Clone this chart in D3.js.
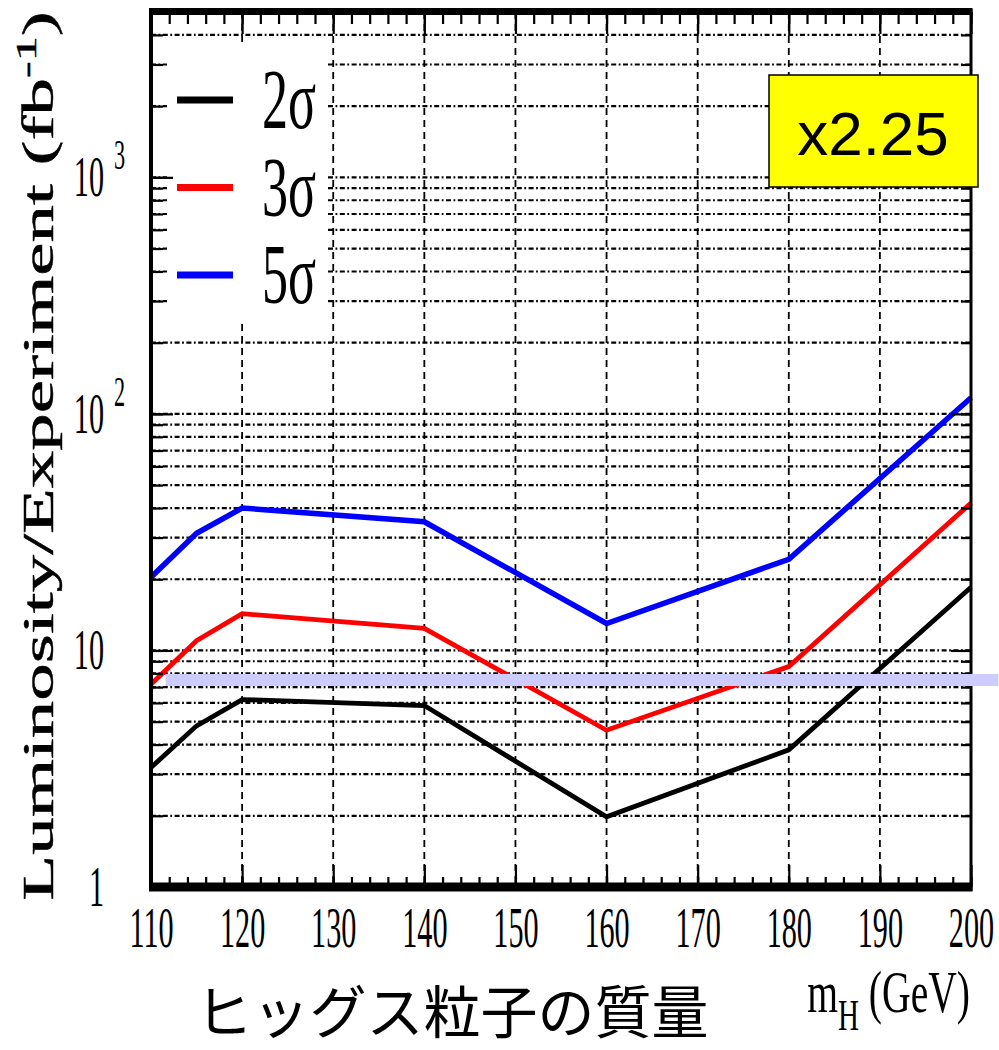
<!DOCTYPE html>
<html>
<head>
<meta charset="utf-8">
<script src="https://cdn.jsdelivr.net/npm/d3@7"></script>
<style>
  body { margin: 0; background: #fff; }
  svg { display: block; }
</style>
</head>
<body>
<svg id="chart" width="999" height="1050"></svg>
<script>
// Higgs mass points (GeV) and luminosity needed per experiment (fb^-1)
var massPoints = [110, 115, 120, 140, 160, 180, 200];
var lumi2sigma = [3.2, 4.8, 6.2, 5.85, 1.98, 3.8, 18.5];
var lumi3sigma = [7.2, 11.0, 14.3, 12.4, 4.6, 8.55, 42];
var lumi5sigma = [20.4, 31.3, 40, 35, 13.0, 24.3, 117];

var seriesNames = ["2σ", "3σ", "5σ"];
var seriesColors = ["#000000", "#ff0000", "#0000ff"];

var xTicks = [110, 120, 130, 140, 150, 160, 170, 180, 190, 200];
var xGrid = [120, 130, 140, 150, 160, 170, 180, 190];
var yTickValues = [1, 10, 100, 1000];
var yTickBase = ["1", "10", "10", "10"];
var yTickExp = ["", "", "2", "3"];

var bandLevel = 7.5;          // lavender reference line
var bandSpan = [111.6, 203];
var factorLabel = "x2.25";
var xTitle = "ヒッグス粒子の質量";

var plot = {left: 151, right: 971, top: 12, bottom: 887};
var squeeze = 0.53;   // the source figure is horizontally compressed

var x = d3.scaleLinear().domain([110, 200]).range([plot.left, plot.right]);
var y = d3.scaleLog().domain([1, 5000]).range([plot.bottom, plot.top]);

var xMinor = d3.range(110, 201, 2);
var yMinor = [];
yTickValues.forEach(function(d) {
  for (var m = 1; m < 10; m++) {
    var v = d * m;
    if (v > 1 && v < 5000) yMinor.push(v);
  }
});

var svg = d3.select("#chart");
svg.append("rect").attr("width", 999).attr("height", 1050).attr("fill", "#fff");

// grid lines
var grid = svg.append("g");
grid.selectAll(".hgrid").data(yMinor).join("line")
  .attr("class", "hgrid")
  .attr("x1", plot.left).attr("x2", plot.right)
  .attr("y1", d => y(d)).attr("y2", d => y(d))
  .attr("stroke", "#000").attr("stroke-width", 2.2)
  .attr("stroke-dasharray", "5,2.5,1.8,2.5");
grid.selectAll(".vgrid").data(xGrid).join("line")
  .attr("class", "vgrid")
  .attr("x1", d => x(d)).attr("x2", d => x(d))
  .attr("y1", plot.top).attr("y2", plot.bottom)
  .attr("stroke", "#000").attr("stroke-width", 1.8)
  .attr("stroke-dasharray", "7,5");

// legend background hides the grid
svg.append("rect")
  .attr("x", 167).attr("y", 42).attr("width", 161).attr("height", 278)
  .attr("fill", "#fff");

// curves
var series = [lumi2sigma, lumi3sigma, lumi5sigma];
var line = d3.line()
  .x((d, i) => x(massPoints[i]))
  .y(d => y(d));
svg.append("g").selectAll("path").data(series).join("path")
  .attr("d", line)
  .attr("fill", "none")
  .attr("stroke", (d, i) => seriesColors[i])
  .attr("stroke-width", (d, i) => i == 2 ? 5.5 : 4.8);

// ticks on all four sides
function ticks(axis, transform) {
  var g = svg.append("g").attr("transform", transform).call(axis);
  g.select(".domain").remove();
  g.selectAll(".tick line").attr("stroke-width", 2.2);
  return g;
}
ticks(d3.axisBottom(x).tickValues(xMinor).tickSize(-10).tickFormat(""), `translate(0,${plot.bottom})`);
var bottomAxis = ticks(d3.axisBottom(x).tickValues(xTicks).tickSize(-22).tickPadding(20).tickFormat(d3.format("d")),
  `translate(0,${plot.bottom})`);
ticks(d3.axisTop(x).tickValues(xMinor).tickSize(-12).tickFormat(""), `translate(0,${plot.top})`);
ticks(d3.axisTop(x).tickValues(xTicks).tickSize(-22).tickFormat(""), `translate(0,${plot.top})`);
ticks(d3.axisLeft(y).tickValues(yMinor).tickSize(-12).tickFormat(""), `translate(${plot.left},0)`);
ticks(d3.axisLeft(y).tickValues(yTickValues).tickSize(-22).tickFormat(""), `translate(${plot.left},0)`);
ticks(d3.axisRight(y).tickValues(yMinor).tickSize(-10).tickFormat(""), `translate(${plot.right},0)`);
ticks(d3.axisRight(y).tickValues(yTickValues).tickSize(-20).tickFormat(""), `translate(${plot.right},0)`);

bottomAxis.selectAll("text")
  .attr("font-family", "Liberation Serif, serif")
  .attr("font-size", 57)
  .attr("fill", "#000")
  .attr("transform", `scale(${squeeze},1)`);

// frame
var frame = svg.append("g").attr("stroke", "#000").attr("fill", "none");
frame.append("line").attr("x1", plot.left).attr("x2", plot.left).attr("y1", plot.top - 3).attr("y2", plot.bottom + 4).attr("stroke-width", 4);
frame.append("line").attr("x1", plot.right).attr("x2", plot.right).attr("y1", plot.top - 3).attr("y2", plot.bottom + 4).attr("stroke-width", 3);
frame.append("line").attr("x1", plot.left - 2).attr("x2", plot.right + 1.5).attr("y1", plot.top - 0.5).attr("y2", plot.top - 0.5).attr("stroke-width", 7);
frame.append("line").attr("x1", plot.left - 2).attr("x2", plot.right + 1.5).attr("y1", plot.bottom).attr("y2", plot.bottom).attr("stroke-width", 9);

// y tick labels (10^n style)
var yLab = svg.append("g").attr("font-family", "Liberation Serif, serif").attr("fill", "#000");
yTickValues.forEach(function(v, i) {
  yLab.append("text")
    .attr("transform", `translate(104,${y(v) + 19}) scale(${squeeze},1)`)
    .attr("text-anchor", "end").attr("font-size", 57)
    .text(yTickBase[i]);
  if (yTickExp[i]) {
    yLab.append("text")
      .attr("transform", `translate(114,${y(v) - 8}) scale(${squeeze},1)`)
      .attr("font-size", 42)
      .text(yTickExp[i]);
  }
});

// y axis title
var yTitle = svg.append("text")
  .attr("transform", `translate(53,456) rotate(-90) scale(1,0.58)`)
  .attr("text-anchor", "middle")
  .attr("font-family", "Liberation Serif, serif")
  .attr("font-size", 75)
  .attr("stroke", "#000").attr("stroke-width", 0.8)
  .attr("fill", "#000");
yTitle.append("tspan").text("Luminosity/Experiment (fb");
yTitle.append("tspan").attr("dy", -29).attr("font-size", 50).text("-1");
yTitle.append("tspan").attr("dy", 29).text(")");

// x axis title
var mTitle = svg.append("text")
  .attr("transform", "translate(970,1012) scale(0.66,1)")
  .attr("text-anchor", "end")
  .attr("font-family", "Liberation Serif, serif")
  .attr("font-size", 60)
  .attr("fill", "#000");
mTitle.append("tspan").text("m");
mTitle.append("tspan").attr("dy", 18).attr("font-size", 44).text("H");
mTitle.append("tspan").attr("dy", -18).text(" (GeV)");

svg.append("text")
  .attr("x", 452).attr("y", 1033)
  .attr("text-anchor", "middle")
  .attr("font-family", "Noto Sans CJK JP")
  .attr("font-size", 57)
  .attr("fill", "#000")
  .text(xTitle);

// legend
var legend = svg.append("g");
seriesNames.forEach(function(name, i) {
  var ly = 100 + i * 87.5;
  legend.append("line")
    .attr("x1", 177).attr("x2", 233).attr("y1", ly).attr("y2", ly)
    .attr("stroke", seriesColors[i]).attr("stroke-width", 7);
  legend.append("text")
    .attr("transform", `translate(262,${ly + 28}) scale(0.62,1)`)
    .attr("font-family", "Liberation Serif, serif")
    .attr("font-size", 84)
    .attr("fill", "#000")
    .text(name);
});

// lavender reference band
svg.append("line")
  .attr("x1", x(bandSpan[0])).attr("x2", x(bandSpan[1]))
  .attr("y1", y(bandLevel)).attr("y2", y(bandLevel))
  .attr("stroke", "#ccccff").attr("stroke-width", 12);

// yellow factor box
svg.append("rect")
  .attr("x", 769).attr("y", 75).attr("width", 209).attr("height", 112)
  .attr("fill", "#ffff00").attr("stroke", "#000").attr("stroke-width", 1.5);
svg.append("text")
  .attr("x", 873).attr("y", 155)
  .attr("text-anchor", "middle")
  .attr("font-family", "Liberation Sans, Arial, sans-serif")
  .attr("font-size", 62)
  .attr("fill", "#000")
  .text(factorLabel);
</script>
</body>
</html>
